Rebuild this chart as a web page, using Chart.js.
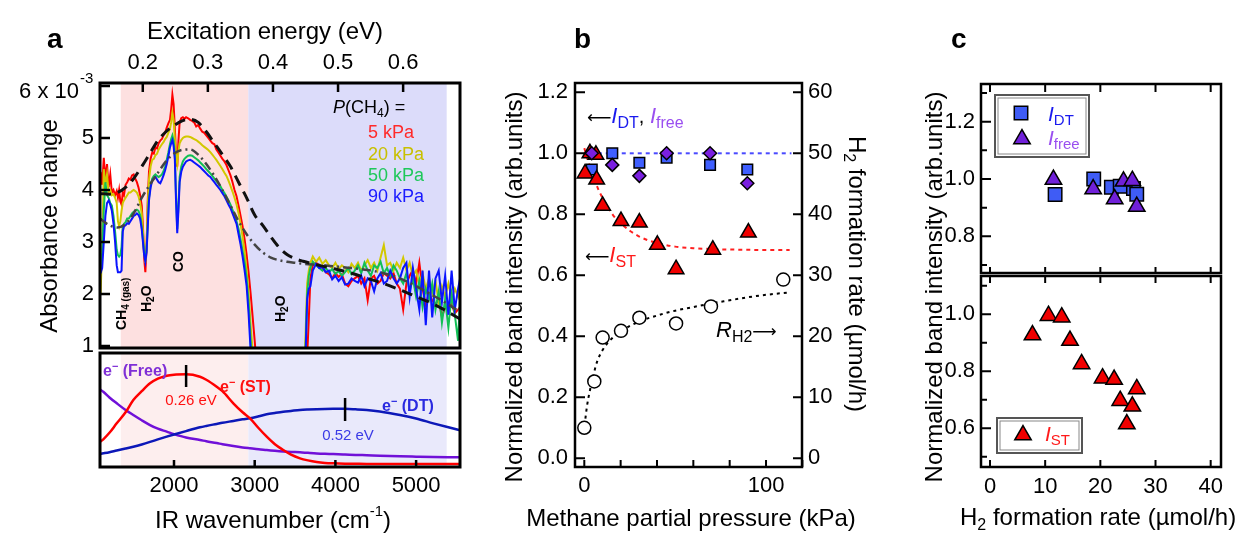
<!DOCTYPE html>
<html><head><meta charset="utf-8">
<script src="https://cdn.jsdelivr.net/npm/chart.js@4.4.1/dist/chart.umd.min.js"></script>
<style>
html,body{margin:0;padding:0;background:#fff;}
#wrap{position:relative;width:1248px;height:534px;overflow:hidden;background:#fff;}
canvas{position:absolute;left:0;top:0;}
</style></head><body>
<div id="wrap">
<canvas id="cA1" width="1248" height="534"></canvas>
<canvas id="cA2" width="1248" height="534"></canvas>
<canvas id="cB" width="1248" height="534"></canvas>
<canvas id="cC1" width="1248" height="534"></canvas>
<canvas id="cC2" width="1248" height="534"></canvas>
</div>
<script>
// ================= DATA =================
// Panel a (top): absorbance change (x10^-3) vs IR wavenumber (cm-1)
const wnLow = [1090,1110,1130,1150,1170,1190,1210,1230,1250,1270,
1290,1305,1320,1335,1350,1365,1380,1400,1420,1440,
1460,1480,1500,1520,1540,1560,1580,1600,1615,1630,
1645,1660,1675,1690,1710,1730,1750,1770,1790,1810,
1830,1850,1870,1890,1910,1930,1950,1965,1980,1995,
2010,2025,2040,2055,2070,2090,2110,2130,2150,2175,
2200,2225,2250,2275,2300,2325,2350,2375,2400,2425,
2450,2475,2500,2525,2550,2575,2600,2625,2650,2675,
2700,2725,2750,2775,2800,2825,2850,2875,2900,2925,
2950,2975,3000,3025];
const abs5kPaLow = [4.35,4.1,4.62,4.2,4.5,4.05,4.3,3.95,4.0,3.9,
3.98,3.85,4.0,3.78,3.72,3.95,3.9,4.1,4.15,4.22,
4.2,4.28,4.3,4.22,4.15,4.05,3.9,3.7,3.3,2.7,
2.42,2.9,3.8,4.35,4.6,4.72,4.7,4.82,4.8,4.9,
4.95,4.98,5.05,5.1,5.2,5.28,5.35,5.55,5.83,5.65,
5.2,4.7,4.45,4.95,5.3,5.38,5.4,5.37,5.4,5.38,
5.35,5.33,5.3,5.22,5.25,5.18,5.12,5.1,5.05,5.0,
4.95,4.9,4.88,4.78,4.72,4.66,4.6,4.55,4.48,4.38,
4.28,4.15,4.0,3.88,3.7,3.5,3.3,3.05,2.75,2.4,
2.0,1.55,1.1,0.6];
const abs20kPaLow = [2.0,2.9,4.4,4.1,4.3,3.95,4.0,3.9,3.92,3.85,
3.75,3.4,3.3,3.4,3.6,3.75,3.8,3.85,3.9,3.95,
3.95,3.98,4.0,3.98,3.95,3.88,3.75,3.55,3.2,2.8,
2.6,2.9,3.7,4.2,4.45,4.58,4.6,4.67,4.7,4.78,
4.83,4.88,4.92,4.98,5.02,5.1,5.18,5.3,5.48,5.35,
5.0,4.65,4.5,4.75,4.9,4.96,5.0,5.02,5.03,5.03,
5.02,5.0,4.98,4.96,4.93,4.9,4.86,4.83,4.8,4.77,
4.73,4.68,4.63,4.58,4.52,4.46,4.4,4.33,4.27,4.18,
4.08,3.97,3.85,3.72,3.55,3.35,3.1,2.82,2.45,2.0,
1.4,0.9,0.5,0.3];
const abs50kPaLow = [2.4,2.8,3.6,4.15,3.9,3.85,3.75,3.7,3.5,3.2,
2.85,2.75,2.72,2.75,2.9,3.3,3.35,3.38,3.45,3.45,
3.5,3.55,3.58,3.6,3.62,3.6,3.52,3.3,3.05,2.8,
2.68,2.85,3.35,3.85,4.08,4.22,4.27,4.3,4.27,4.25,
4.27,4.3,4.36,4.45,4.58,4.72,4.88,4.98,5.05,4.95,
4.7,3.9,3.25,3.7,4.25,4.45,4.55,4.6,4.63,4.66,
4.67,4.66,4.63,4.6,4.57,4.53,4.49,4.45,4.4,4.36,
4.32,4.27,4.22,4.17,4.12,4.07,4.0,3.94,3.87,3.8,
3.72,3.62,3.52,3.4,3.25,3.05,2.83,2.6,2.3,1.8,
1.1,0.6,0.3,0.2];
const abs90kPaLow = [2.4,2.5,3.0,3.5,3.75,3.8,3.72,3.6,3.35,3.0,
2.55,2.42,2.42,2.42,2.45,3.2,3.3,3.32,3.36,3.35,
3.4,3.45,3.5,3.52,3.55,3.52,3.45,3.25,3.0,2.75,
2.62,2.8,3.3,3.8,4.05,4.18,4.22,4.25,4.2,4.15,
4.13,4.2,4.28,4.38,4.5,4.65,4.82,4.9,4.96,4.85,
4.6,3.8,3.17,3.6,4.15,4.35,4.45,4.5,4.55,4.57,
4.58,4.56,4.53,4.5,4.47,4.44,4.4,4.36,4.32,4.28,
4.25,4.2,4.15,4.1,4.05,4.0,3.94,3.88,3.8,3.72,
3.65,3.55,3.45,3.35,3.15,2.95,2.72,2.45,2.15,1.6,
0.9,0.5,0.3,0.2];
const wnHigh = [3610,3630,3650,3670,3690,3720,
3760,3800,3840,3880,3920,3960,4000,4040,4080,4120,
4160,4200,4240,4280,4320,4360,4400,4440,4480,4520,
4560,4600,4640,4680,4720,4760,4800,4840,4880,4920,
4960,5000,5040,5080,5120,5160,5200,5240,5280,5320,
5360,5400,5440,5480,5520,5545];
const abs5kPaHigh = [0.3,0.5,0.8,1.5,2.3,2.55,
2.6,2.55,2.5,2.42,2.38,2.3,2.4,2.33,2.38,2.2,
2.15,2.25,2.3,2.35,2.2,2.3,1.88,2.3,2.35,2.2,
2.25,2.4,2.35,2.3,2.4,2.2,2.1,1.7,2.2,2.35,
2.46,2.2,2.6,2.1,1.8,2.0,1.88,1.8,1.9,1.56,
1.75,1.69,1.8,1.63,1.7,1.75];
const abs20kPaHigh = [0.5,1.2,2.2,2.45,2.6,2.72,
2.62,2.7,2.58,2.65,2.55,2.5,2.6,2.48,2.55,2.5,
2.42,2.58,2.5,2.6,2.45,2.55,2.65,2.5,2.6,2.45,
2.7,2.94,2.55,2.6,2.45,2.6,2.5,2.7,2.45,2.6,
2.35,2.45,2.2,2.4,2.1,2.3,2.0,2.25,1.85,2.15,
1.95,2.2,1.9,2.1,1.95,2.2];
const abs50kPaHigh = [0.4,0.9,2.0,2.35,2.5,2.62,
2.55,2.5,2.45,2.5,2.42,2.48,2.38,2.45,2.35,2.42,
2.5,2.38,2.45,2.55,2.4,2.6,2.45,2.35,2.55,2.5,
2.62,2.4,2.5,2.35,2.55,2.45,2.3,2.2,2.4,2.05,
2.3,1.95,2.25,1.75,2.1,1.9,2.2,1.7,2.05,1.45,
1.9,1.35,2.0,1.6,1.1,1.9];
const abs90kPaHigh = [0.5,0.8,1.9,2.1,2.15,2.45,
2.58,2.5,2.52,2.42,2.45,2.28,2.35,2.25,2.32,2.18,
2.2,2.3,2.25,2.22,2.35,2.15,2.3,2.25,2.05,2.3,
2.4,2.2,2.25,2.45,2.3,2.2,2.3,2.5,2.6,1.95,
2.5,2.1,1.7,2.45,1.4,2.45,1.55,2.3,2.45,1.85,
2.35,1.6,2.45,1.7,2.1,2.3];
// model curves (black dashed, grey dash-dot)
const wnModel = [1083,1200,1300,1400,1500,1600,1700,1800,1900,2000,2100,2200,2300,2400,2500,2600,2700,2800,2900,3000,3100,3200,3300,3400,3500,3600,3800,4000,4200,4400,4600,4800,5000,5200,5400,5545];
const modelDashed = [3.93,3.92,3.95,4.05,4.22,4.45,4.7,4.95,5.12,5.24,5.33,5.36,5.3,5.12,4.9,4.68,4.45,4.15,3.85,3.52,3.32,3.1,2.9,2.76,2.68,2.63,2.55,2.48,2.4,2.3,2.2,2.08,1.95,1.82,1.65,1.52];
const modelDashDot = [3.45,3.32,3.28,3.35,3.55,3.85,4.1,4.33,4.55,4.7,4.77,4.78,4.68,4.5,4.27,4.0,3.7,3.4,3.15,2.95,2.8,2.7,2.65,2.62,2.6,2.58,2.56,2.53,2.5,2.46,2.4,2.3,2.15,1.98,1.8,1.65];
const pinkBand = [1340,2921];
const blueBand = [2921,5379];
// Panel a (bottom): component bands (arb.)
const wnComp = [1083,1124,1200,1290,1400,1496,1600,1703,1800,1910,2000,2149,2322,2400,2529,2600,2735,2850,2942,3050,3149,3250,3354,3450,3561,3660,3768,3870,3974,4119,4250,4388,4550,4800,5000,5213,5400,5545];
const compST = [0.22,0.243,0.3,0.383,0.48,0.588,0.665,0.734,0.775,0.801,0.81,0.813,0.792,0.765,0.704,0.665,0.559,0.48,0.427,0.34,0.266,0.2,0.149,0.108,0.076,0.058,0.044,0.036,0.032,0.029,0.028,0.027,0.027,0.026,0.026,0.026,0.026,0.026];
const compDT = [0.115,0.12,0.13,0.145,0.162,0.178,0.198,0.22,0.242,0.266,0.285,0.315,0.348,0.36,0.378,0.388,0.404,0.418,0.428,0.445,0.462,0.474,0.485,0.492,0.5,0.504,0.507,0.509,0.51,0.51,0.506,0.5,0.487,0.456,0.425,0.383,0.348,0.322];
const compFree = [0.68,0.66,0.61,0.559,0.5,0.456,0.41,0.368,0.336,0.31,0.288,0.258,0.237,0.226,0.21,0.2,0.184,0.172,0.164,0.155,0.149,0.142,0.136,0.132,0.129,0.124,0.119,0.116,0.114,0.11,0.106,0.103,0.099,0.094,0.091,0.088,0.086,0.085];
const peakST = 2150, peakDT = 4120;
const evTicks = [0.2,0.3,0.4,0.5,0.6];
const absTicks = [1,2,3,4,5,6];
const wnTicks = [2000,3000,4000,5000];

// Panel b
const pST = [0.4,3.1,6.4,6.8,10.1,20.2,30.3,40.2,50.5,70.7,90.3];
const intST = [0.934,1.0,0.995,0.914,0.828,0.778,0.773,0.70,0.62,0.684,0.74];
const pDT = [4.1,15.4,30.3,45.3,69.2,89.7];
const intDT = [0.947,1.0,0.969,0.986,0.962,0.947];
const intFree = [1.0,0.962,0.926,1.0,1.0,0.902];
const pRate = [0,5.5,10.1,20.2,30.3,50.5,69.7,109.5];
const rateH2 = [5.0,12.6,19.8,20.9,23.05,22.1,24.9,29.3];
const fitP_DT = [3,114];
const fit_DT = [1.0,1.0];
const fitP_ST = [0,2,4,6,8,10,13,16,20,25,30,35,40,50,60,70,85,100,113];
const fit_ST = [1.017,0.976,0.939,0.907,0.878,0.854,0.822,0.796,0.771,0.746,0.728,0.715,0.706,0.694,0.689,0.686,0.684,0.683,0.683];
const fitP_R = [0.6,1.5,3,5,7,10,15,20,30,40,50,60,70,80,90,100,113];
const fit_R = [6.5,8.6,11.0,13.6,15.8,17.7,19.6,20.8,22.4,23.4,24.2,24.8,25.4,25.9,26.4,26.8,27.2];
const bLeftTicks = [0,0.2,0.4,0.6,0.8,1.0,1.2];
const bRightTicks = [0,10,20,30,40,50,60];
const bXTickMarks = [0,20,40,60,80,100,120];
const bXTickLabels = [0,100];

// Panel c
const rDT = [11.8,18.8,22.0,23.6,26.0,26.6];
const cIntDT = [0.946,1.0,0.971,0.975,0.967,0.947];
const rFree = [11.5,18.7,22.6,24.2,25.8,26.6];
const cIntFree = [0.998,0.965,0.93,0.992,0.994,0.904];
const rST = [7.7,10.6,13.0,14.5,16.6,20.4,22.5,23.6,24.8,25.8,26.6];
const cIntST = [0.927,0.995,0.99,0.908,0.826,0.776,0.771,0.697,0.615,0.677,0.738];
const cXTicks = [0,10,20,30,40];
const cTopMajor = [0.8,1.0,1.2], cTopMinor = [0.7,0.9,1.1,1.3];
const cBotMajor = [0.6,0.8,1.0], cBotMinor = [0.5,0.7,0.9,1.1];

// ================= DRAWING =================
const FONT = "'Liberation Sans', Arial, Helvetica, sans-serif";
const SYM = "'DejaVu Sans', 'Liberation Sans', sans-serif";
Chart.defaults.font.family = FONT;
Chart.defaults.color = '#000';
const RED='#ff0000', YEL='#d2c800', GRN='#12c055', BLU='#0a14ff';

function fnt(r){ return (r.i?'italic ':'')+(r.b?'bold ':'')+r.s+'px '+(r.f||FONT); }
function drawRich(ctx,it){
  ctx.save(); ctx.translate(it.x,it.y); if(it.rot) ctx.rotate(it.rot*Math.PI/180);
  ctx.textBaseline='alphabetic'; ctx.textAlign='left';
  let tot=0; const ws=[];
  it.runs.forEach(r=>{ctx.font=fnt(r); const w=ctx.measureText(r.t).width; ws.push(w); tot+=w;});
  let x = it.align==='center'? -tot/2 : it.align==='right'? -tot : 0;
  it.runs.forEach((r,i)=>{ctx.font=fnt(r); ctx.fillStyle=r.c||'#000'; ctx.fillText(r.t,x,r.dy||0); x+=ws[i];});
  ctx.restore();
}
function drawMarker(ctx,style,x,y,r,fill){
  ctx.save(); ctx.beginPath();
  if(style==='rect'){const s=r*Math.SQRT1_2; ctx.rect(x-s,y-s,2*s,2*s);}
  else {ctx.moveTo(x,y-r); ctx.lineTo(x+r*0.866,y+r*0.5); ctx.lineTo(x-r*0.866,y+r*0.5); ctx.closePath();}
  ctx.fillStyle=fill; ctx.fill(); ctx.lineWidth=1.5; ctx.strokeStyle='#000'; ctx.stroke(); ctx.restore();
}
function drawBox(ctx,b){
  ctx.save();
  ctx.lineWidth=2; ctx.strokeStyle='#555'; ctx.strokeRect(b[0],b[1],b[2]-b[0],b[3]-b[1]);
  ctx.lineWidth=1; ctx.strokeStyle='#888'; ctx.strokeRect(b[0]+3,b[1]+3,b[2]-b[0]-6,b[3]-b[1]-6);
  ctx.restore();
}
const DECO = {};
Chart.register({
  id:'deco',
  beforeDatasetsDraw(chart){
    const o=DECO[chart.canvas.id]; if(!o) return;
    const ctx=chart.ctx, ca=chart.chartArea;
    (o.bands||[]).forEach(b=>{const s=chart.scales[b.axis]; const x1=s.getPixelForValue(b.range[0]), x2=s.getPixelForValue(b.range[1]);
      ctx.save(); ctx.fillStyle=b.color; ctx.fillRect(x1,ca.top,x2-x1,ca.bottom-ca.top); ctx.restore();});
  },
  afterDatasetsDraw(chart){
    const o=DECO[chart.canvas.id]; if(!o) return;
    const ctx=chart.ctx, ca=chart.chartArea;
    ctx.save(); ctx.strokeStyle='#000';
    (o.ticks||[]).forEach(t=>{const s=chart.scales[t.axis]; ctx.lineWidth=t.w||2; ctx.beginPath();
      t.values.forEach(v=>{const p=s.getPixelForValue(v);
        if(t.side==='left'){ctx.moveTo(ca.left,p);ctx.lineTo(ca.left+t.len,p);}
        else if(t.side==='right'){ctx.moveTo(ca.right,p);ctx.lineTo(ca.right-t.len,p);}
        else if(t.side==='top'){ctx.moveTo(p,ca.top);ctx.lineTo(p,ca.top+t.len);}
        else {ctx.moveTo(p,ca.bottom);ctx.lineTo(p,ca.bottom-t.len);} });
      ctx.stroke();});
    (o.vmarks||[]).forEach(m=>{const p=chart.scales[m.axis].getPixelForValue(m.value); ctx.lineWidth=2.5; ctx.beginPath(); ctx.moveTo(p,m.y1); ctx.lineTo(p,m.y2); ctx.stroke();});
    if(o.frame){ctx.lineWidth=o.frame; ctx.strokeRect(ca.left,ca.top,ca.right-ca.left,ca.bottom-ca.top);}
    ctx.restore();
    (o.boxes||[]).forEach(b=>drawBox(ctx,b));
    (o.markers||[]).forEach(m=>drawMarker(ctx,m.style,m.x,m.y,m.r,m.fill));
    (o.texts||[]).forEach(t=>drawRich(ctx,t));
  }
});

const S=40;
const fix = s=>{ if(s.isHorizontal()) s.height=S; else s.width=S; };
function lin(o){ return Object.assign({type:'linear', grid:{display:false,drawTicks:false}, border:{display:false}}, o); }
function tl(list){ return s=>{ s.ticks = list.map(v=>({value:v})); }; }
function tk(pad,cb){ return {font:{size:22}, color:'#000', padding:pad, autoSkip:false, maxRotation:0, minRotation:0, callback:cb}; }
function mk(id,area,sides,scales,datasets){
  Object.values(scales).forEach(sc=>{ if(sc.display!==false) sc.afterFit=fix; });
  return new Chart(document.getElementById(id),{
    type:'scatter', data:{datasets},
    options:{responsive:false, animation:false, events:[],
      layout:{padding:{left:area.l-(sides.left?S:0), right:1248-area.r-(sides.right?S:0), top:area.t-(sides.top?S:0), bottom:534-area.b-(sides.bottom?S:0)}},
      plugins:{legend:{display:false}, tooltip:{enabled:false}},
      scales}
  });
}
function line(xs,ys,color,w,dash,order,extra){
  return Object.assign({data:xs.map((x,i)=>({x,y:ys[i]})), showLine:true, borderColor:color, borderWidth:w, borderDash:dash||[], pointRadius:0, fill:false, tension:0, order}, extra||{});
}
function pts(xs,ys,style,r,fill,order,extra){
  return Object.assign({data:xs.map((x,i)=>({x,y:ys[i]})), showLine:false, pointStyle:style, pointRadius:r, pointBackgroundColor:fill, pointBorderColor:'#000', pointBorderWidth:1.5, order}, extra||{});
}
const smooth = {cubicInterpolationMode:'monotone'};
const EV = 8065.5;
const LARR = '\u27F5', RARR = '\u27F6';

// ---------- Panel a, top ----------
DECO.cA1 = {
  bands:[{axis:'x',range:pinkBand,color:'#fde0e0'},{axis:'x',range:blueBand,color:'#dcdcfa'}],
  ticks:[{axis:'xTop',side:'top',values:evTicks,len:9,w:2.5},{axis:'y',side:'left',values:absTicks,len:10,w:2.5}],
  frame:3,
  texts:[
    {x:47,y:48,runs:[{t:'a',s:28,b:1}]},
    {x:265,y:38.5,align:'center',runs:[{t:'Excitation energy (eV)',s:24}]},
    {x:57,y:226,rot:-90,align:'center',runs:[{t:'Absorbance change',s:24}]},
    {x:79,y:98,align:'right',runs:[{t:'6 x 10',s:22}]},
    {x:80,y:83,runs:[{t:'-3',s:15}]},
    {x:333,y:113,runs:[{t:'P',s:18,i:1},{t:'(CH',s:18},{t:'4',s:12,dy:4},{t:') =',s:18}]},
    {x:368,y:138,runs:[{t:'5 kPa',s:18,c:'#ff2a2a'}]},
    {x:368,y:159.5,runs:[{t:'20 kPa',s:18,c:'#c8c000'}]},
    {x:368,y:180.5,runs:[{t:'50 kPa',s:18,c:'#1ec85a'}]},
    {x:368,y:201.5,runs:[{t:'90 kPa',s:18,c:'#1a1aff'}]},
    {x:126,y:330,rot:-90,runs:[{t:'CH',s:14,b:1},{t:'4 (gas)',s:10,b:1,dy:3}]},
    {x:151,y:312,rot:-90,runs:[{t:'H',s:14,b:1},{t:'2',s:10,b:1,dy:3},{t:'O',s:14,b:1}]},
    {x:182.5,y:272,rot:-90,runs:[{t:'CO',s:14,b:1}]},
    {x:285,y:322,rot:-90,runs:[{t:'H',s:14,b:1},{t:'2',s:10,b:1,dy:3},{t:'O',s:14,b:1}]}
  ]
};
mk('cA1',{l:100,t:83,r:460,b:348},{left:1,top:1},{
  x: lin({display:false,min:1083,max:5544}),
  xTop: lin({position:'top',min:1083/EV,max:5544/EV,afterBuildTicks:tl(evTicks),ticks:tk(7,v=>v.toFixed(1))}),
  y: lin({position:'left',min:0.9615,max:6.0577,afterBuildTicks:tl(absTicks),ticks:tk(6,v=>v===6?'':String(v))})
},[
  line(wnModel,modelDashed,'#111',3,[11,7],0,smooth),
  line(wnModel,modelDashDot,'#444',2.5,[9,4,2,4],1,smooth),
  line(wnLow,abs90kPaLow,BLU,2,null,2), line(wnHigh,abs90kPaHigh,BLU,2,null,2),
  line(wnLow,abs50kPaLow,GRN,2,null,3), line(wnHigh,abs50kPaHigh,GRN,2,null,3),
  line(wnLow,abs20kPaLow,YEL,2,null,4), line(wnHigh,abs20kPaHigh,YEL,2,null,4),
  line(wnLow,abs5kPaLow,RED,2,null,5), line(wnHigh,abs5kPaHigh,RED,2,null,5)
]);

// ---------- Panel a, bottom ----------
DECO.cA2 = {
  bands:[{axis:'x',range:pinkBand,color:'#fdeeee'},{axis:'x',range:blueBand,color:'#e9e9fb'}],
  ticks:[{axis:'x',side:'bottom',values:wnTicks,len:7,w:2.5}],
  vmarks:[{axis:'x',value:peakST,y1:365,y2:387},{axis:'x',value:peakDT,y1:398,y2:421}],
  frame:3,
  texts:[
    {x:103,y:376,runs:[{t:'e',s:16,b:1,c:'#7f2fd6'},{t:'\u2212',s:11,b:1,dy:-6,c:'#7f2fd6'},{t:' (Free)',s:16,b:1,c:'#7f2fd6'}]},
    {x:220,y:392,runs:[{t:'e',s:16,b:1,c:'#ff1010'},{t:'\u2212',s:11,b:1,dy:-6,c:'#ff1010'},{t:' (ST)',s:16,b:1,c:'#ff1010'}]},
    {x:191,y:405,align:'center',runs:[{t:'0.26 eV',s:15,c:'#ff1010'}]},
    {x:382,y:411,runs:[{t:'e',s:16,b:1,c:'#2a2ae0'},{t:'\u2212',s:11,b:1,dy:-6,c:'#2a2ae0'},{t:' (DT)',s:16,b:1,c:'#2a2ae0'}]},
    {x:348,y:439.5,align:'center',runs:[{t:'0.52 eV',s:15,c:'#3a3ae6'}]},
    {x:273,y:528,align:'center',runs:[{t:'IR wavenumber (cm',s:24},{t:'-1',s:15,dy:-12},{t:')',s:24}]}
  ]
};
mk('cA2',{l:100,t:353,r:460,b:467},{bottom:1},{
  x: lin({position:'bottom',min:1083,max:5544,afterBuildTicks:tl(wnTicks),ticks:tk(6,v=>String(v))}),
  y: lin({display:false,min:0,max:1})
},[
  line(wnComp,compST,'#ff0000',2.5,null,0,smooth),
  line(wnComp,compDT,'#0c18b8',2.5,null,1,smooth),
  line(wnComp,compFree,'#7010d8',2.5,null,2,smooth)
]);

// ---------- Panel b ----------
DECO.cB = {
  ticks:[{axis:'x',side:'bottom',values:bXTickMarks,len:7},{axis:'y',side:'left',values:bLeftTicks,len:10},{axis:'y2',side:'right',values:bRightTicks,len:9}],
  frame:2.5,
  texts:[
    {x:574,y:48,runs:[{t:'b',s:28,b:1}]},
    {x:587,y:123,runs:[{t:LARR,s:17,f:SYM},{t:'I',s:22,i:1,c:'#1a1aee'},{t:'DT',s:16,dy:5,c:'#1a1aee'},{t:', ',s:20},{t:'I',s:22,i:1,c:'#9a4ff0'},{t:'free',s:16,dy:5,c:'#9a4ff0'}]},
    {x:585,y:262,runs:[{t:LARR,s:17,f:SYM},{t:'I',s:22,i:1,c:'#ff1a1a'},{t:'ST',s:16,dy:5,c:'#ff1a1a'}]},
    {x:716,y:337,runs:[{t:'R',s:22,i:1},{t:'H2',s:16,dy:5},{t:RARR,s:17,f:SYM}]},
    {x:522,y:287,rot:-90,align:'center',runs:[{t:'Normalized band intensity (arb.units)',s:24}]},
    {x:849,y:274,rot:90,align:'center',runs:[{t:'H',s:24},{t:'2',s:16,dy:5},{t:' formation rate (\u00b5mol/h)',s:24}]},
    {x:691,y:525.5,align:'center',runs:[{t:'Methane partial pressure (kPa)',s:24}]}
  ]
};
mk('cB',{l:575,t:83,r:802,b:467},{left:1,right:1,bottom:1},{
  x: lin({position:'bottom',min:-5.12,max:119.8,afterBuildTicks:tl(bXTickLabels),ticks:tk(6,v=>String(v))}),
  y: lin({position:'left',min:-0.0285,max:1.2305,afterBuildTicks:tl(bLeftTicks),ticks:tk(7,v=>v.toFixed(1))}),
  y2: lin({position:'right',min:-1.425,max:61.525,afterBuildTicks:tl(bRightTicks),ticks:tk(6,v=>String(v))})
},[
  pts(pDT,intFree,'rectRot',6.5,'#7a1fe0',0),
  pts(pST,intST,'triangle',9,'#f00000',1),
  pts(pDT,intDT,'rect',7.5,'#3f5fff',2),
  pts(pRate,rateH2,'circle',6.5,'#ffffff',3,{yAxisID:'y2'}),
  line(fitP_DT,fit_DT,'#4a4aff',2,[4,4],4),
  line(fitP_ST,fit_ST,'#ff2020',2,[4,4],5,smooth),
  line(fitP_R,fit_R,'#000',2,[3,4],6,Object.assign({yAxisID:'y2'},smooth))
]);

// ---------- Panel c, top ----------
DECO.cC1 = {
  ticks:[{axis:'y',side:'left',values:cTopMajor,len:10},{axis:'y',side:'left',values:cTopMinor,len:6},
         {axis:'x',side:'top',values:cXTicks,len:8},{axis:'x',side:'bottom',values:cXTicks,len:6}],
  frame:2.5,
  boxes:[[995,95,1089,157]],
  markers:[{style:'rect',x:1021,y:113,r:9.5,fill:'#3f5cf5'},{style:'triangle',x:1022,y:139,r:9.5,fill:'#7020d8'}],
  texts:[
    {x:1048,y:121,runs:[{t:'I',s:21,i:1,c:'#1a1aee'},{t:'DT',s:15,dy:4,c:'#1a1aee'}]},
    {x:1048,y:145,runs:[{t:'I',s:21,i:1,c:'#9a4ff0'},{t:'free',s:15,dy:4,c:'#9a4ff0'}]}
  ]
};
mk('cC1',{l:981,t:84,r:1221,b:273},{left:1},{
  x: lin({display:false,min:-1.631,max:41.87}),
  y: lin({position:'left',min:0.6719,max:1.3316,afterBuildTicks:tl(cTopMajor),ticks:tk(6,v=>v.toFixed(1))})
},[
  pts(rFree,cIntFree,'triangle',9.5,'#7020d8',0),
  pts(rDT,cIntDT,'rect',9.5,'#3f5cf5',1)
]);

// ---------- Panel c, bottom ----------
DECO.cC2 = {
  ticks:[{axis:'y',side:'left',values:cBotMajor,len:10},{axis:'y',side:'left',values:cBotMinor,len:6},
         {axis:'x',side:'top',values:cXTicks,len:7},{axis:'x',side:'bottom',values:cXTicks,len:7}],
  frame:2.5,
  boxes:[[997,418,1082,453]],
  markers:[{style:'triangle',x:1023,y:435,r:9.5,fill:'#f00000'}],
  texts:[
    {x:951,y:48,runs:[{t:'c',s:28,b:1}]},
    {x:1045,y:441,runs:[{t:'I',s:21,i:1,c:'#ff1a1a'},{t:'ST',s:15,dy:4,c:'#ff1a1a'}]},
    {x:942,y:287,rot:-90,align:'center',runs:[{t:'Normalized band intensity (arb.units)',s:24}]},
    {x:960,y:525,runs:[{t:'H',s:24},{t:'2',s:16,dy:5},{t:' formation rate (\u00b5mol/h)',s:24}]}
  ]
};
mk('cC2',{l:981,t:276,r:1221,b:467},{left:1,bottom:1},{
  x: lin({position:'bottom',min:-1.631,max:41.87,afterBuildTicks:tl(cXTicks),ticks:tk(7,v=>String(v))}),
  y: lin({position:'left',min:0.4642,max:1.1344,afterBuildTicks:tl(cBotMajor),ticks:tk(6,v=>v.toFixed(1))})
},[
  pts(rST,cIntST,'triangle',9.5,'#f00000',0)
]);
</script>
</body></html>
